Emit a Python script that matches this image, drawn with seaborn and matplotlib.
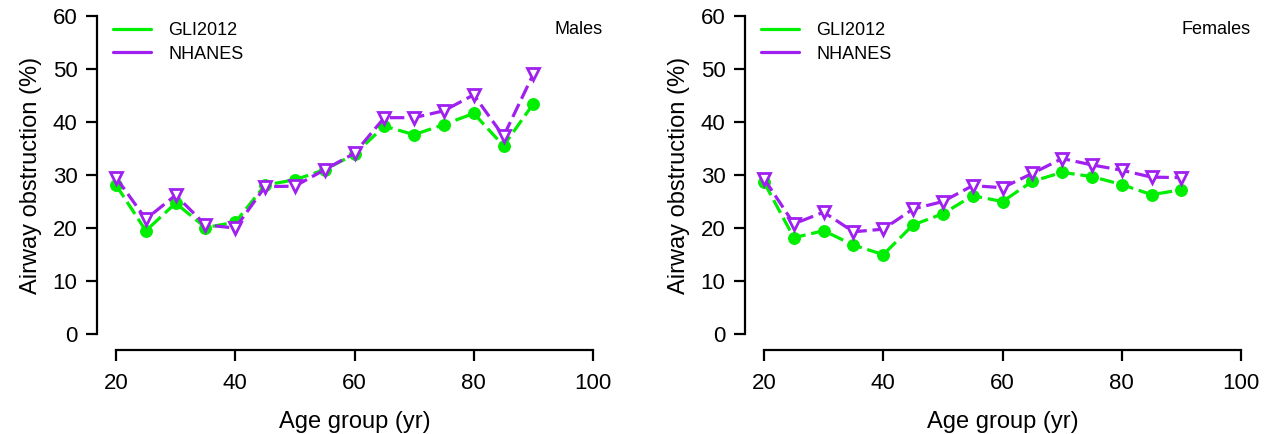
import pandas as pd
import seaborn as sns
import matplotlib.pyplot as plt
from matplotlib.lines import Line2D

# Age groups (yr)
ages = [20, 25, 30, 35, 40, 45, 50, 55, 60, 65, 70, 75, 80, 85, 90]

# Airway obstruction (%)
male_gli = [28.1, 19.5, 24.7, 20.1, 21.1, 28.1, 29.1, 31.0, 33.9, 39.2, 37.6, 39.5, 41.6, 35.5, 43.4]
male_nhanes = [29.5, 21.7, 26.2, 20.6, 20.0, 27.8, 27.9, 31.0, 34.1, 40.8, 40.8, 42.1, 45.1, 37.3, 49.0]
female_gli = [28.6, 18.2, 19.5, 16.8, 15.0, 20.6, 22.7, 26.1, 25.0, 28.8, 30.5, 29.7, 28.2, 26.3, 27.2]
female_nhanes = [29.3, 20.8, 23.0, 19.3, 19.8, 23.6, 25.0, 28.0, 27.6, 30.3, 33.1, 31.9, 30.9, 29.6, 29.5]

series_names = ["GLI2012", "NHANES"]
panel_names = ["Males", "Females"]
x_ticks = [20, 40, 60, 80, 100]
y_ticks = [0, 10, 20, 30, 40, 50, 60]

GREEN = "#00EE00"
PURPLE = "#A020F0"

sns.set_style("white")
plt.rcParams["font.family"] = ["Liberation Sans", "DejaVu Sans"]
plt.rcParams["text.color"] = "black"
plt.rcParams["axes.labelcolor"] = "black"

fig = plt.figure(figsize=(12.66, 4.34), dpi=100)
axes = [
    fig.add_axes([97 / 1266, 87 / 434, 515 / 1266, 344 / 434]),
    fig.add_axes([745 / 1266, 87 / 434, 515 / 1266, 344 / 434]),
]

panel_data = [(male_gli, male_nhanes), (female_gli, female_nhanes)]

for ax, name, (gli, nhanes) in zip(axes, panel_names, panel_data):
    df = pd.DataFrame({"age": ages, "GLI2012": gli, "NHANES": nhanes})

    sns.lineplot(
        data=df, x="age", y="GLI2012", ax=ax, color=GREEN, lw=2.3,
        marker="o", markersize=8.5, markeredgecolor=GREEN, markerfacecolor=GREEN,
        dashes=False, linestyle=(0, (4.5, 1.8)), zorder=3,
    )
    sns.lineplot(
        data=df, x="age", y="NHANES", ax=ax, color=PURPLE, lw=2.3,
        marker="v", markersize=8.5, markeredgewidth=2, markeredgecolor=PURPLE,
        markerfacecolor="white", dashes=False, linestyle=(0, (4.5, 1.8)), zorder=4,
    )

    ax.set_xlim(16.8, 103.2)
    ax.set_ylim(-2.4, 62.4)
    ax.set_xticks(x_ticks)
    ax.set_yticks(y_ticks)
    for side in ["top", "right"]:
        ax.spines[side].set_visible(False)
    ax.spines["left"].set_bounds(0, 60)
    ax.spines["bottom"].set_bounds(20, 100)
    ax.spines["bottom"].set_position(("outward", 2))
    for side in ["left", "bottom"]:
        ax.spines[side].set_linewidth(1.6)
        ax.spines[side].set_color("black")
    ax.tick_params(axis="both", direction="out", length=8, width=1.6,
                   labelsize=16, colors="black", pad=9, left=True, bottom=True)
    ax.tick_params(axis="y", pad=6)

    ax.set_xlabel("Age group (yr)", fontsize=17, labelpad=12)
    ax.set_ylabel("Airway obstruction (%)", fontsize=17, labelpad=8)

    handles = [Line2D([], [], color=GREEN, lw=2.3), Line2D([], [], color=PURPLE, lw=2.3)]
    ax.legend(handles, series_names, loc="upper left", bbox_to_anchor=(0.031, 0.944),
              frameon=False, fontsize=13, handlelength=2.1, handletextpad=0.95,
              labelspacing=0.35, borderpad=0, borderaxespad=0)
    ax.text(0.982, 0.924, name, transform=ax.transAxes, ha="right", va="center", fontsize=13)

fig.savefig("out.png", dpi=100)
